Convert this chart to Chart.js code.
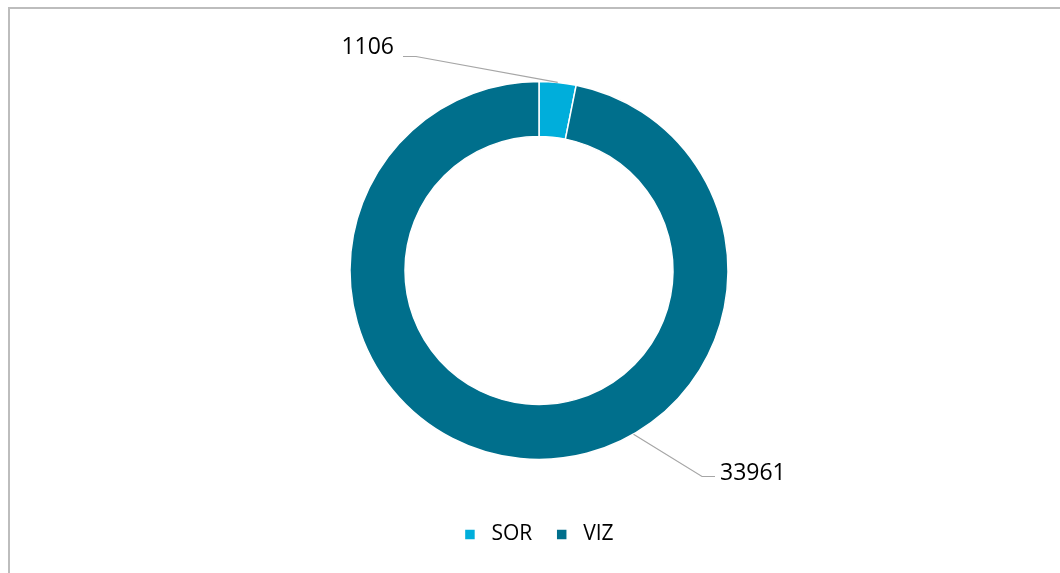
<!DOCTYPE html>
<html>
<head>
<meta charset="utf-8">
<script src="https://cdn.jsdelivr.net/npm/chart.js@4/dist/chart.umd.min.js"></script>
<style>
  html, body { margin: 0; padding: 0; background: #fff; overflow: hidden; }
  #wrap { position: relative; width: 1060px; height: 573px; }
  #frame {
    position: absolute; left: 8px; top: 7px; width: 1100px; height: 620px;
    border-left: 2px solid #bdbdbd; border-top: 2px solid #bdbdbd;
  }
  canvas { position: absolute; left: 0; top: 0; }
</style>
</head>
<body>
<div id="wrap">
  <div id="frame"></div>
  <canvas id="donut" width="1060" height="573"></canvas>
</div>
<script>
const categories = ["SOR", "VIZ"];
const values = [1106, 33961];
const colors = ["#00aedb", "#006f8c"];

// leader lines: anchor angle on the ring (null = slice middle), elbow and text offsets from centre
const callouts = [
  { angle: null, elbow: [-123, -214], end: [-136, -214], text: [-145, -216.5], align: "right" },
  { angle: Math.PI / 3, elbow: [163, 206], end: [176, 206], text: [181, 209.5], align: "left" },
];

const calloutPlugin = {
  id: "callouts",
  afterDatasetsDraw(chart) {
    const ctx = chart.ctx;
    const arcs = chart.getDatasetMeta(0).data;
    ctx.save();
    arcs.forEach((arc, i) => {
      const c = callouts[i];
      const a = c.angle === null ? (arc.startAngle + arc.endAngle) / 2 : c.angle;
      const r = arc.outerRadius;
      const ax = arc.x + Math.cos(a) * r;
      const ay = arc.y + Math.sin(a) * r;
      ctx.strokeStyle = "#a6a6a6";
      ctx.lineWidth = 1.2;
      ctx.beginPath();
      ctx.moveTo(ax, ay);
      ctx.lineTo(arc.x + c.elbow[0], arc.y + c.elbow[1]);
      ctx.lineTo(arc.x + c.end[0], arc.y + c.end[1]);
      ctx.stroke();
      ctx.fillStyle = "#000";
      ctx.font = "23px 'Open Sans'";
      ctx.textAlign = c.align;
      ctx.textBaseline = "alphabetic";
      ctx.fillText(String(values[i]), arc.x + c.text[0], arc.y + c.text[1]);
    });
    ctx.restore();
  },
};

new Chart(document.getElementById("donut"), {
  type: "doughnut",
  data: {
    labels: categories,
    datasets: [
      {
        data: values,
        backgroundColor: colors,
        borderColor: "#ffffff",
        borderWidth: 1.5,
      },
    ],
  },
  options: {
    responsive: false,
    animation: false,
    radius: 189,
    cutout: "70.9%",
    layout: { padding: { left: 18, right: 0, top: 41, bottom: 18 } },
    plugins: {
      legend: {
        position: "bottom",
        labels: {
          boxWidth: 11,
          boxHeight: 11,
          padding: 24,
          color: "#000",
          font: { family: "'Open Sans'", size: 21 },
          generateLabels(chart) {
            const items = Chart.overrides.doughnut.plugins.legend.labels.generateLabels(chart);
            items.forEach((item) => { item.text = " " + item.text; });
            return items;
          },
        },
      },
      tooltip: { enabled: false },
    },
  },
  plugins: [calloutPlugin],
});
</script>
</body>
</html>
